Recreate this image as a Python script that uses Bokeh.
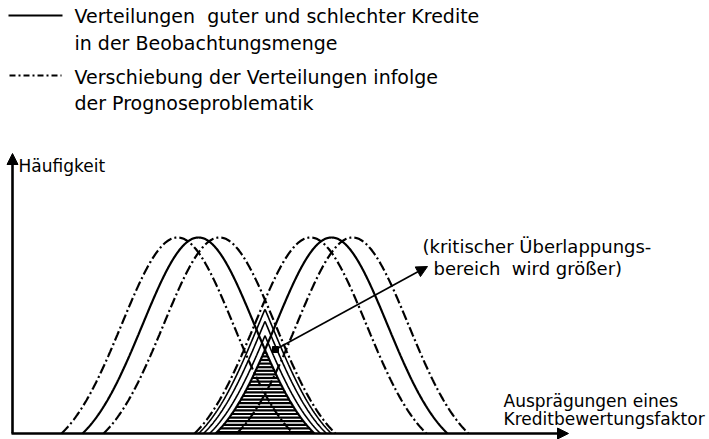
import numpy as np
from bokeh.plotting import figure
from bokeh.models import Range1d, Arrow, NormalHead
from bokeh.core.properties import value
from bokeh.embed import file_html
from bokeh.resources import INLINE

# ---- data (feature-value units on x, frequency units on y) ----
dist_names = ["schlechte Kredite", "gute Kredite"]
dist_centers = [186, 319]          # peak positions of the two distributions
dist_peak = [196, 196]             # peak frequency
dist_sigma = [56, 56]              # spread
dist_halfwidth = [116, 116]        # support half-width (curve meets axis)
shift_dashdot = [21]               # shift caused by forecasting problem
shift_nested = [6, 12, 17]         # intermediate overlap outlines

legend_texts = [
    "Verteilungen\u00a0 guter und schlechter Kredite",
    "in der Beobachtungsmenge",
    "Verschiebung der Verteilungen infolge",
    "der Prognoseproblematik",
]
y_label = "Häufigkeit"
x_label = ["Ausprägungen eines", "Kreditbewertungsfaktor"]
note_label = ["(kritischer Überlappungs-", "bereich\u00a0 wird größer)"]

y_axis_top = 280
x_axis_end = 556
note_from = (263, 84)
note_to = (415, 167)

FONT = "DejaVu Sans"


def curve(x, c, h, s, w):
    e0 = np.exp(-w ** 2 / (2 * s ** 2))
    d = x - c
    f = h * (np.exp(-d ** 2 / (2 * s ** 2)) - e0) / (1 - e0)
    return np.where(np.abs(d) <= w, np.maximum(f, 0), 0.0)


def curve_xy(c, h, s, w):
    x = np.linspace(c - w, c + w, 400)
    return x, curve(x, c, h, s, w)


def inv_d(y, h, s, w):
    e0 = np.exp(-w ** 2 / (2 * s ** 2))
    return s * np.sqrt(-2 * np.log(e0 + (1 - e0) * y / h))


p = figure(width=709, height=439, x_range=Range1d(-12, 697), y_range=Range1d(-6, 433),
           output_backend="svg", toolbar_location=None, min_border=0)
p.axis.visible = False
p.grid.visible = False
p.outline_line_color = None
p.background_fill_color = "white"

cL, cR = dist_centers
h, s, w = dist_peak[0], dist_sigma[0], dist_halfwidth[0]

# hatched overlap region (solid distributions)
ys = np.arange(1.5, h, 3.6)
x0s, x1s, yy = [], [], []
for y in ys:
    d = inv_d(y, h, s, w)
    lx, rx = cR - d, cL + d
    if lx < rx:
        x0s.append(lx); x1s.append(rx); yy.append(y)
p.segment(x0=x0s, y0=yy, x1=x1s, y1=yy, line_color="black", line_width=2.2)

# nested overlap outlines
for sh in shift_nested:
    a, b = cR - sh - w, cL + sh + w
    x = np.linspace(a, b, 300)
    y = np.minimum(curve(x, cL + sh, h, s, w), curve(x, cR - sh, h, s, w))
    p.line(x, y, line_color="black", line_width=1.6)

# solid distributions
for c, hh, ss, ww in zip(dist_centers, dist_peak, dist_sigma, dist_halfwidth):
    x, y = curve_xy(c, hh, ss, ww)
    p.line(x, y, line_color="black", line_width=2.2)

# dash-dot shifted distributions
for sh in shift_dashdot:
    for c, hh, ss, ww in zip(dist_centers, dist_peak, dist_sigma, dist_halfwidth):
        for sgn in (-1, 1):
            x, y = curve_xy(c + sgn * sh, hh, ss, ww)
            p.line(x, y, line_color="black", line_width=2.2, line_dash="10 3 2 3")

# axes with arrowheads
p.add_layout(Arrow(end=NormalHead(size=11, fill_color="black", line_color="black"),
                   x_start=0, y_start=0, x_end=0, y_end=y_axis_top,
                   line_color="black", line_width=2.6))
p.add_layout(Arrow(end=NormalHead(size=11, fill_color="black", line_color="black"),
                   x_start=-1, y_start=0, x_end=x_axis_end, y_end=0,
                   line_color="black", line_width=2.6))

# annotation arrow
p.add_layout(Arrow(end=NormalHead(size=11, fill_color="black", line_color="black"),
                   x_start=note_from[0], y_start=note_from[1],
                   x_end=note_to[0], y_end=note_to[1],
                   line_color="black", line_width=1.6))
p.scatter([note_from[0]], [note_from[1]], marker="square", size=6, color="black")

# legend samples
p.line([-4, 50], [418, 418], line_color="black", line_width=2.2)
p.line([-3, 49], [358, 358], line_color="black", line_width=2.2, line_dash="6 3 2 3")

def txt(fs):
    return dict(text_font=value(FONT), text_font_size=fs, text_baseline="middle",
                text_align="left", text_color="black")

p.text(x=[62, 62, 62, 62], y=[418, 391, 357, 331], text=legend_texts, **txt("19px"))
p.text(x=[6], y=[268], text=[y_label], **txt("17px"))
p.text(x=[410, 421], y=[187, 165], text=note_label, **txt("18px"))
p.text(x=[491, 491], y=[33, 15], text=x_label, **txt("17px"))

open("out.html", "w").write(file_html(p, INLINE))
